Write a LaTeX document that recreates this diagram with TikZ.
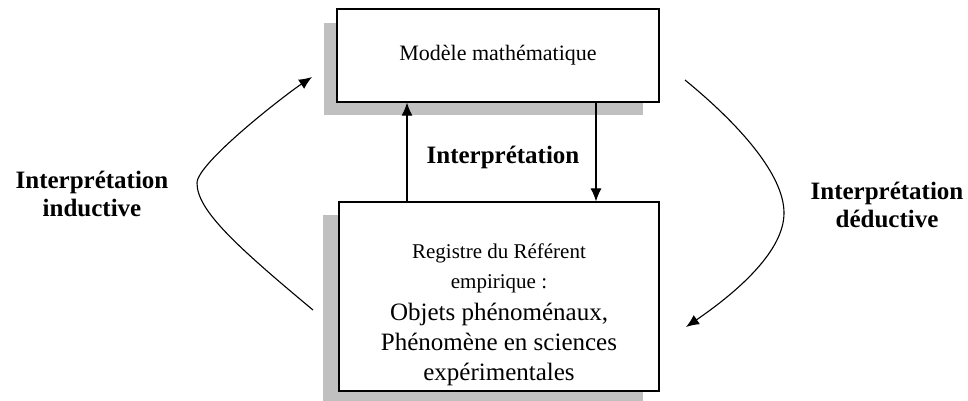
\documentclass[tikz,border=0pt]{standalone}
\usepackage{fontspec}
\setmainfont{Liberation Serif}
\usetikzlibrary{arrows.meta,calc}
\definecolor{shadowgray}{RGB}{192,192,192}
\tikzset{
  box/.style={draw=black, line width=1.2pt, fill=white, inner sep=0pt},
  shade/.style={fill=shadowgray, draw=none},
  conn/.style={line width=1.1pt, -{Latex[length=13pt,width=11pt]}},
  lbl/.style={font=\fontsize{25}{28}\selectfont\bfseries, align=center, inner sep=0pt},
}
\newcommand{\smalltxt}{\fontsize{21}{30}\selectfont}
\newcommand{\bigtxt}{\fontsize{25}{33}\selectfont}
\begin{document}
\begin{tikzpicture}[x=1pt,y=-1pt]
\useasboundingbox (0,0) rectangle (968,400);
% shadows
\fill[shade] (324,23) rectangle (643,115);
\fill[shade] (323,215) rectangle (643,404);
% boxes
\node[box, minimum width=322pt, minimum height=93pt] (top) at (498,55.5)
  {\fontsize{22}{24}\selectfont Modèle mathématique};
\node[box, minimum width=320pt, minimum height=189pt] (bot) at (499,296.5) {};
\node[align=center, inner sep=0pt, font=\smalltxt] (bottxt) at ($(bot.center)+(0,18)$)
  {Registre du Référent\\ empirique :\\[2pt]
   \bigtxt Objets phénoménaux,\\ \bigtxt Phénomène en sciences\\ \bigtxt expérimentales};
% vertical connectors
\coordinate (ux) at (407,0);
\coordinate (dx) at (596,0);
\draw[conn] (ux |- bot.north) -- (ux |- top.south);
\draw[conn] (dx |- top.south) -- (dx |- bot.north);
\node[lbl] (mid) at (503,157) {Interprétation};
% curved connectors
\coordinate (ls) at (313,310);
\coordinate (lm) at (197,183);
\coordinate (le) at (312,77);
\draw[line width=1.1pt] (ls) .. controls (235,245) and (197,210) .. (lm);
\draw[conn] (lm) .. controls (197,163) and (285,95) .. (le);
\coordinate (rs) at (685,80);
\coordinate (rm) at (784,213);
\coordinate (re) at (686,327);
\draw[line width=1.1pt] (rs) .. controls (740,125) and (784,175) .. (rm);
\draw[conn] (rm) .. controls (784,250) and (740,290) .. (re);
\node[lbl] (lefttxt) at (92,194) {Interprétation\\ inductive};
\node[lbl] (righttxt) at (887,205) {Interprétation\\ déductive};
\end{tikzpicture}
\end{document}
